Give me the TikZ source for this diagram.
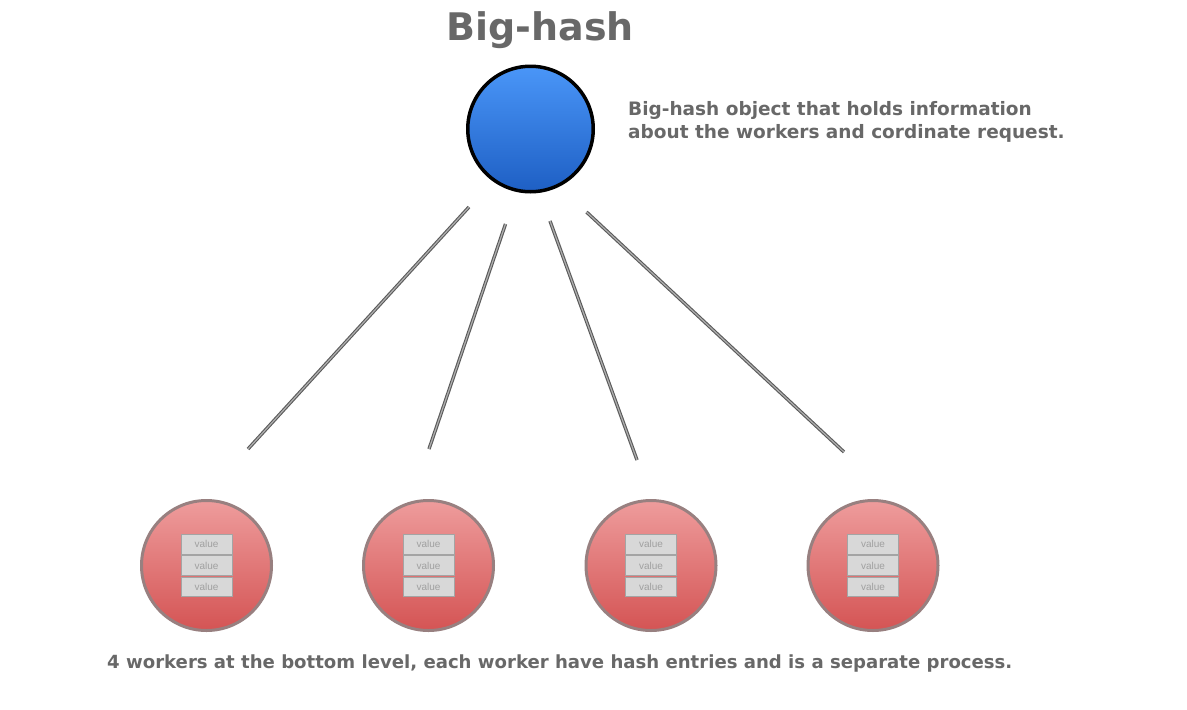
\documentclass[tikz,border=0pt]{standalone}
\usepackage{fontspec}
\setmainfont{DejaVu Sans}
\newfontfamily\valuefont{Liberation Sans}
\usepackage{tikz}
\usetikzlibrary{shapes,positioning}
\definecolor{txtgray}{RGB}{104, 104, 104}
\definecolor{hashtop}{RGB}{74, 150, 248}
\definecolor{hashbot}{RGB}{30, 95, 196}
\definecolor{workertop}{RGB}{238, 156, 156}
\definecolor{workerbot}{RGB}{212, 84, 84}
\definecolor{workerline}{RGB}{152, 128, 128}
\definecolor{entryfill}{RGB}{216, 216, 216}
\definecolor{entryline}{RGB}{164, 164, 164}
\definecolor{entrytext}{RGB}{160, 160, 160}
\definecolor{edgedark}{RGB}{90, 90, 90}
\definecolor{edgelight}{RGB}{175, 175, 175}
\tikzstyle{hash} = [circle, draw=black, line width=3.5pt, top color=hashtop, bottom color=hashbot, minimum size=125.5pt, inner sep=0pt]
\tikzstyle{worker} = [circle, draw=workerline, line width=3pt, top color=workertop, bottom color=workerbot, minimum size=130pt, inner sep=0pt]
\tikzstyle{entry} = [rectangle, draw=entryline, line width=0.8pt, fill=entryfill, text=entrytext, font=\valuefont\fontsize{10}{11}\selectfont, minimum width=51pt, minimum height=19.5pt, inner sep=0pt]
\tikzstyle{textonly} = [draw=none, fill=none, text=txtgray, inner sep=0pt]
\tikzstyle{tedge} = [draw=edgedark, double=edgelight, double distance=1.2pt, line width=1.1pt]

\begin{document}
\begin{tikzpicture}[x=1pt, y=-1pt]
\useasboundingbox (0,0) rectangle (1187,710);

% big-hash =============================
\node[textonly, anchor=base, font=\bfseries\fontsize{38}{42}\selectfont] (title) at (540,40) {Big-hash};
\node[hash] (hash) at (530.5,129) {};
\node[textonly, anchor=north west, align=left, font=\bfseries\fontsize{18.5}{23}\selectfont] (info) at (628,101) {Big-hash object that holds information\\about the workers and cordinate request.};

% workers =============================
\node[worker] (w1) at (206.5,565.5) {};
\node[worker] (w2) at (428.5,565.5) {};
\node[worker] (w3) at (651,565.5) {};
\node[worker] (w4) at (873,565.5) {};

% hash entries =============================
\node[entry] (v1b) at (w1) {value};
\node[entry, above=1pt of v1b] (v1a) {value};
\node[entry, below=1pt of v1b] (v1c) {value};
\node[entry] (v2b) at (w2) {value};
\node[entry, above=1pt of v2b] (v2a) {value};
\node[entry, below=1pt of v2b] (v2c) {value};
\node[entry] (v3b) at (w3) {value};
\node[entry, above=1pt of v3b] (v3a) {value};
\node[entry, below=1pt of v3b] (v3c) {value};
\node[entry] (v4b) at (w4) {value};
\node[entry, above=1pt of v4b] (v4a) {value};
\node[entry, below=1pt of v4b] (v4c) {value};

\node[textonly, anchor=base west, font=\bfseries\fontsize{18.1}{21}\selectfont] (note) at (107,668) {4 workers at the bottom level, each worker have hash entries and is a separate process.};

% edges =============================
\coordinate (t1) at (469,207);
\coordinate (t2) at (505.5,224);
\coordinate (t3) at (550,221);
\coordinate (t4) at (586.5,212);
\coordinate (b1) at (248,449);
\coordinate (b2) at (429,449);
\coordinate (b3) at (637,460);
\coordinate (b4) at (844,452);
\path[tedge] (t1) -- (b1);
\path[tedge] (t2) -- (b2);
\path[tedge] (t3) -- (b3);
\path[tedge] (t4) -- (b4);

\end{tikzpicture}
\end{document}
